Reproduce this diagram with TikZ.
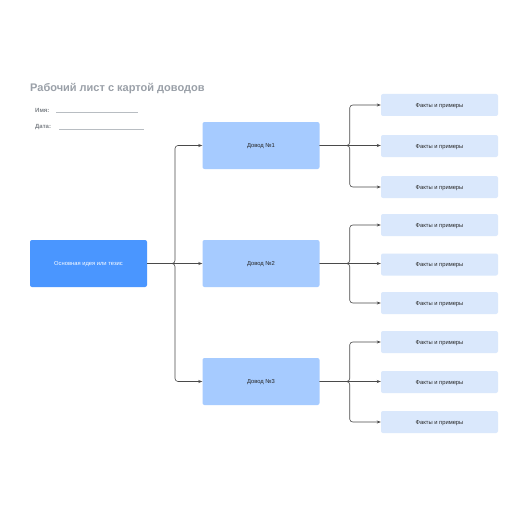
\documentclass[tikz,border=0pt]{standalone}
\usepackage{fontspec}
\setmainfont{Liberation Sans}
\usetikzlibrary{arrows.meta}
\definecolor{mainblue}{HTML}{4A96FF}
\definecolor{argblue}{HTML}{A6CBFF}
\definecolor{factblue}{HTML}{DAE8FC}
\definecolor{titlegray}{HTML}{9AA0A8}
\definecolor{linegray}{HTML}{4A4A4A}
\tikzset{
  boxtext/.style={font=\fontsize{5.8}{6}\selectfont, text depth=0pt, text height=4.2pt},
  mainbox/.style={fill=mainblue, rounded corners=2pt, minimum width=117pt, minimum height=47pt, inner sep=0pt, text=white, boxtext},
  argbox/.style={fill=argblue, rounded corners=2pt, minimum width=117pt, minimum height=47pt, inner sep=0pt, text=black!85, boxtext},
  factbox/.style={fill=factblue, rounded corners=2pt, minimum width=117pt, minimum height=22pt, inner sep=0pt, text=black!85, boxtext},
  conn/.style={draw=linegray, line width=0.6pt, rounded corners=3pt, -{Stealth[length=4pt,width=3pt]}},
  formlabel/.style={anchor=west, inner sep=0pt, text=titlegray!80!black, font=\bfseries\fontsize{6}{7}\selectfont},
  formline/.style={draw=titlegray!70, line width=0.5pt}
}
\begin{document}
\begin{tikzpicture}[x=1pt,y=-1pt]
\useasboundingbox (0,0) rectangle (516,516);
\fill[white] (0,0) rectangle (516,516);
\node[anchor=west, inner sep=0pt, text=titlegray, font=\bfseries\fontsize{11}{12}\selectfont] (title) at (30,88.5) {Рабочий лист с картой доводов};
\node[formlabel] (name) at (35,110) {Имя:};
\coordinate (n1) at (56,112);
\coordinate (n2) at (138,112);
\draw[formline] (n1) -- (n2);
\node[formlabel] (date) at (35,127) {Дата:};
\coordinate (d1) at (59,129);
\coordinate (d2) at (144,129);
\draw[formline] (d1) -- (d2);

\node[mainbox] (main) at (88.5,263.5) {Основная идея или тезис};
\node[argbox] (a1) at (261,145.5) {Довод №1};
\node[argbox] (a2) at (261,263.5) {Довод №2};
\node[argbox] (a3) at (261,381.5) {Довод №3};

\node[factbox] (f11) at (439.5,105) {Факты и примеры};
\node[factbox] (f12) at (439.5,146) {Факты и примеры};
\node[factbox] (f13) at (439.5,187) {Факты и примеры};
\node[factbox] (f21) at (439.5,225) {Факты и примеры};
\node[factbox] (f22) at (439.5,264.5) {Факты и примеры};
\node[factbox] (f23) at (439.5,303) {Факты и примеры};
\node[factbox] (f31) at (439.5,342) {Факты и примеры};
\node[factbox] (f32) at (439.5,382) {Факты и примеры};
\node[factbox] (f33) at (439.5,422) {Факты и примеры};

\draw[conn] (main.east) -| (175,200) |- (a1.west);
\draw[conn] (main.east) -- (a2.west);
\draw[conn] (main.east) -| (175,330) |- (a3.west);

\foreach \a/\i in {a1/1,a2/2,a3/3}{
  \draw[conn] (\a.east) -| ([xshift=30pt]\a.east |- f\i1.west) -- (f\i1.west);
  \draw[conn] (\a.east) -- (\a.east -| f\i2.west);
  \draw[conn] (\a.east) -| ([xshift=30pt]\a.east |- f\i3.west) -- (f\i3.west);
}
\end{tikzpicture}
\end{document}
